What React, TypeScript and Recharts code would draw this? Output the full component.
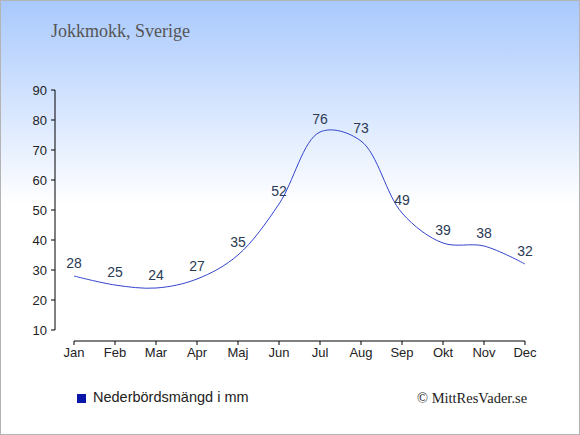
import React from "react";
import { LineChart, Line, XAxis, YAxis, LabelList } from "recharts";

const months = ["Jan", "Feb", "Mar", "Apr", "Maj", "Jun", "Jul", "Aug", "Sep", "Okt", "Nov", "Dec"];
const precipitation = [28, 25, 24, 27, 35, 52, 76, 73, 49, 39, 38, 32];
const yTicks = [10, 20, 30, 40, 50, 60, 70, 80, 90];
const seriesName = "Nederbördsmängd i mm";
const title = "Jokkmokk, Sverige";
const credit = "© MittResVader.se";

const data = months.map((m, i) => ({ month: m, value: precipitation[i] }));

const sans = "'Liberation Sans', Arial, sans-serif";
const serif = "'Liberation Serif', 'Times New Roman', serif";

// Centripetal Catmull-Rom curve (alpha = 0.5), as a d3-style curve factory
class CatmullRomCurve {
  _context: any;
  _alpha: number;
  _line: number = NaN;
  _point = 0;
  _x0 = NaN; _x1 = NaN; _x2 = NaN;
  _y0 = NaN; _y1 = NaN; _y2 = NaN;
  _l01_a = 0; _l12_a = 0; _l23_a = 0;
  _l01_2a = 0; _l12_2a = 0; _l23_2a = 0;
  constructor(context: any, alpha: number) {
    this._context = context;
    this._alpha = alpha;
  }
  areaStart() { this._line = 0; }
  areaEnd() { this._line = NaN; }
  lineStart() {
    this._x0 = this._x1 = this._x2 = this._y0 = this._y1 = this._y2 = NaN;
    this._l01_a = this._l12_a = this._l23_a = this._l01_2a = this._l12_2a = this._l23_2a = this._point = 0;
  }
  lineEnd() {
    switch (this._point) {
      case 2: this._context.lineTo(this._x2, this._y2); break;
      case 3: this.point(this._x2, this._y2); break;
    }
    if (this._line || (this._line !== 0 && this._point === 1)) this._context.closePath();
    this._line = 1 - this._line;
  }
  bez(x: number, y: number) {
    let x1 = this._x1, y1 = this._y1, x2 = this._x2, y2 = this._y2;
    const eps = 1e-12;
    if (this._l01_a > eps) {
      const a = 2 * this._l01_2a + 3 * this._l01_a * this._l12_a + this._l12_2a;
      const n = 3 * this._l01_a * (this._l01_a + this._l12_a);
      x1 = (x1 * a - this._x0 * this._l12_2a + this._x2 * this._l01_2a) / n;
      y1 = (y1 * a - this._y0 * this._l12_2a + this._y2 * this._l01_2a) / n;
    }
    if (this._l23_a > eps) {
      const b = 2 * this._l23_2a + 3 * this._l23_a * this._l12_a + this._l12_2a;
      const m = 3 * this._l23_a * (this._l23_a + this._l12_a);
      x2 = (x2 * b + this._x1 * this._l23_2a - x * this._l12_2a) / m;
      y2 = (y2 * b + this._y1 * this._l23_2a - y * this._l12_2a) / m;
    }
    this._context.bezierCurveTo(x1, y1, x2, y2, this._x2, this._y2);
  }
  point(xIn: number, yIn: number) {
    const x = +xIn, y = +yIn;
    if (this._point) {
      const x23 = this._x2 - x, y23 = this._y2 - y;
      this._l23_2a = Math.pow(x23 * x23 + y23 * y23, this._alpha);
      this._l23_a = Math.sqrt(this._l23_2a);
    }
    switch (this._point) {
      case 0:
        this._point = 1;
        if (this._line) this._context.lineTo(x, y); else this._context.moveTo(x, y);
        break;
      case 1:
        this._point = 2;
        break;
      case 2:
        this._point = 3;
        this.bez(x, y);
        break;
      default:
        this.bez(x, y);
        break;
    }
    this._l01_a = this._l12_a; this._l12_a = this._l23_a;
    this._l01_2a = this._l12_2a; this._l12_2a = this._l23_2a;
    this._x0 = this._x1; this._x1 = this._x2; this._x2 = x;
    this._y0 = this._y1; this._y1 = this._y2; this._y2 = y;
  }
}

const catmullRom = (context: any) => new CatmullRomCurve(context, 0.5);

export default function App() {
  return (
    <div
      style={{
        position: "absolute",
        left: 0,
        top: 0,
        width: 580,
        height: 435,
        boxSizing: "border-box",
        border: "1px solid #b4b4b4",
        background: "linear-gradient(to bottom, #a9c9fd 0%, #ffffff 47%, #ffffff 100%)",
        overflow: "hidden",
      }}
    >
      <div
        style={{
          position: "absolute",
          left: 50,
          top: 20,
          fontFamily: serif,
          fontSize: 18,
          lineHeight: "20px",
          color: "#555",
          whiteSpace: "nowrap",
        }}
      >
        {title}
      </div>

      {/* x axis, drawn slightly below the plot as in the reference */}
      <div style={{ position: "absolute", left: -1, top: -1 }}>
        <LineChart width={580} height={435} data={data} margin={{ top: 90, right: 55, bottom: 64, left: 74 }}>
          <XAxis
            dataKey="month"
            height={30}
            padding={{ left: 0, right: 0 }}
            interval={0}
            tickSize={4}
            tickMargin={3}
            axisLine={{ stroke: "#000" }}
            tickLine={{ stroke: "#000" }}
            tick={{ fill: "#222", fontSize: 13, fontFamily: sans }}
          />
          <YAxis hide domain={[10, 90]} />
        </LineChart>
      </div>

      {/* y axis and series */}
      <div style={{ position: "absolute", left: -1, top: -1 }}>
        <LineChart width={580} height={435} data={data} margin={{ top: 90, right: 50, bottom: 105, left: 0 }}>
          <XAxis dataKey="month" hide padding={{ left: 19, right: 5 }} />
          <YAxis
            width={55}
            domain={[10, 90]}
            ticks={yTicks}
            interval={0}
            tickSize={4}
            tickMargin={4}
            axisLine={{ stroke: "#000" }}
            tickLine={{ stroke: "#000" }}
            tick={{ fill: "#222", fontSize: 13, fontFamily: sans }}
          />
          <Line
            type={catmullRom as any}
            dataKey="value"
            name={seriesName}
            stroke="#3344cc"
            strokeWidth={1}
            dot={false}
            activeDot={false}
            isAnimationActive={false}
          >
            <LabelList dataKey="value" position="top" offset={8} fill="#2b3a55" fontSize={14} fontFamily={sans} />
          </Line>
        </LineChart>
      </div>

      {/* legend */}
      <div
        style={{
          position: "absolute",
          left: 76,
          top: 388,
          display: "flex",
          alignItems: "flex-start",
          fontFamily: sans,
          fontSize: 14.5,
          lineHeight: "16px",
          color: "#222",
          whiteSpace: "nowrap",
        }}
      >
        <span style={{ display: "inline-block", width: 9, height: 9, background: "#0a16a8", marginTop: 5, marginRight: 7 }} />
        <span>{seriesName}</span>
      </div>

      <div
        style={{
          position: "absolute",
          left: 416,
          top: 389,
          fontFamily: serif,
          fontSize: 14.5,
          lineHeight: "16px",
          color: "#222",
          whiteSpace: "nowrap",
        }}
      >
        {credit}
      </div>
    </div>
  );
}
